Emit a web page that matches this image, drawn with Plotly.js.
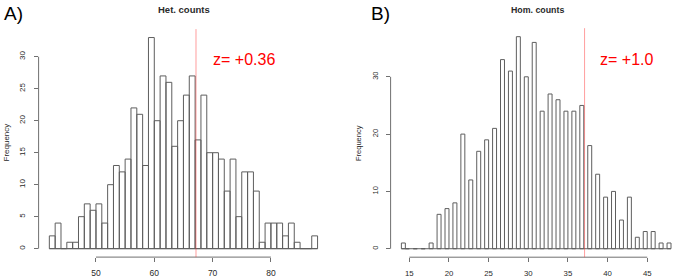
<!DOCTYPE html>
<html>
<head>
<meta charset="utf-8">
<script src="https://cdn.plot.ly/plotly-3.0.1.min.js"></script>
<style>
html,body{margin:0;padding:0;background:#fff;}
#chart{width:673px;height:277px;}
</style>
</head>
<body>
<div id="chart"></div>
<script>
// ---- Data ----
// A) Het. counts: histogram bins (k-1, k], k = upper edge
const hetValues = [43,44,45,46,47,48,49,50,51,52,53,54,55,56,57,58,59,60,61,62,63,64,65,66,67,68,69,70,71,72,73,74,75,76,77,78,79,80,81,82,83,84,85,86,87,88];
const hetCounts = [2,4,0,1,1,5,7,6,7,4,10,13,12,14,22,21,13,33,20,27,26,16,20,24,27,17,24,15,15,14,9,14,5,12,12,9,1,4,4,4,2,4,1,0,0,2];
const hetObserved = 67.15;
const hetLabel = "z= +0.36";
const hetXTicks = [50,60,70,80];
const hetYTicks = [0,5,10,15,20,25,30];

// B) Hom. counts: half-unit bins ending at each integer value
const homValues = [14,15,16,17,18,19,20,21,22,23,24,25,26,27,28,29,30,31,32,33,34,35,36,37,38,39,40,41,42,43,44,45,46,47,48];
const homCounts = [1,0,0,0,1,6,7,8,20,12,17,19,21,33,31,37,30,36,24,27,26,24,24,25,18,13,9,10,5,9,2,3,3,1,1];
const homObserved = 37.1;
const homLabel = "z= +1.0";
const homXTicks = [15,20,25,30,35,40,45];
const homYTicks = [0,10,20,30];

const titles = ["Het. counts", "Hom. counts"];
const panelLabels = ["A)", "B)"];
const yTitle = "Frequency";

// ---- Geometry ----
const W = 673, H = 277;
const px = v => v / W;
const py = v => 1 - v / H;
const FONT = "Liberation Sans, Arial, Helvetica, sans-serif";
const barLine = "#5e5e5e";
const axisCol = "#707070";
const txtCol = "#2a2a2a";
const redLine = "rgba(255,40,40,0.45)";

// bins
const hetBinW = 1;
const hetX = hetValues.map(v => v - hetBinW / 2);
const homBinW = 0.5;
const homX = homValues.map((v, i) => i === 0 ? v + homBinW / 2 : v - homBinW / 2);
const hetEdges = [hetValues[0] - hetBinW, hetValues[hetValues.length - 1]];
const homEdges = [homValues[0], homValues[homValues.length - 1]];

function pad(lo, hi) { const d = (hi - lo) * 0.04; return [lo - d, hi + d]; }
const hetXR = pad(hetEdges[0], hetEdges[1]);
const hetYR = pad(0, Math.max(...hetCounts));
const homXR = pad(homEdges[0], homEdges[1]);
const homYR = pad(0, Math.max(...homCounts));

const traces = [
  {type: 'bar', x: hetX, y: hetCounts, width: hetBinW, xaxis: 'x', yaxis: 'y',
   marker: {color: 'rgba(255,255,255,0)', line: {color: barLine, width: 1}}, hoverinfo: 'skip'},
  {type: 'scatter', mode: 'lines', x: hetEdges, y: [0, 0], xaxis: 'x', yaxis: 'y',
   line: {color: barLine, width: 1}, hoverinfo: 'skip'},
  {type: 'bar', x: homX, y: homCounts, width: homBinW, xaxis: 'x2', yaxis: 'y2',
   marker: {color: 'rgba(255,255,255,0)', line: {color: barLine, width: 1}}, hoverinfo: 'skip'},
  {type: 'scatter', mode: 'lines', x: homEdges, y: [0, 0], xaxis: 'x2', yaxis: 'y2',
   line: {color: barLine, width: 1}, hoverinfo: 'skip'}
];

function xax(domain, range, tickvals, size) {
  return {domain: domain, range: range, tickmode: 'array', tickvals: tickvals,
    ticks: 'outside', ticklen: 4, tickcolor: axisCol, tickwidth: 1,
    showline: false, showgrid: false, zeroline: false,
    tickfont: {family: FONT, size: size, color: txtCol}, ticklabelstandoff: 4, fixedrange: true};
}
function yax(domain, range, tickvals, size, anchor) {
  return {domain: domain, range: range, tickmode: 'array', tickvals: tickvals, anchor: anchor,
    ticks: 'outside', ticklen: 4, tickcolor: axisCol, tickwidth: 1, tickangle: -90,
    showline: false, showgrid: false, zeroline: false,
    tickfont: {family: FONT, size: size, color: txtCol}, ticklabelstandoff: 5, fixedrange: true};
}

const leftX0 = 38.6, leftX1 = 328.3;
const rightX0 = 390.6;
// right panel continues past the page edge; clip range at page width
const rightScale = (homXR[1] - homXR[0]) / (681.8 - rightX0);
const homXRvis = [homXR[0], homXR[0] + (W - rightX0) * rightScale];

const layout = {
  width: W, height: H,
  margin: {l: 0, r: 0, t: 0, b: 0},
  paper_bgcolor: '#fff', plot_bgcolor: 'rgba(0,0,0,0)',
  showlegend: false,
  xaxis: xax([px(leftX0), px(leftX1)], hetXR, hetXTicks, 8.5),
  yaxis: yax([py(257.1), py(29.1)], hetYR, hetYTicks, 8, 'x'),
  xaxis2: Object.assign(xax([px(rightX0), 1], homXRvis, homXTicks, 7.8), {anchor: 'y2'}),
  yaxis2: yax([py(257.2), py(28.2)], homYR, homYTicks, 7.5, 'x2'),
  shapes: [
    // axis lines (R style: first to last tick)
    {type: 'line', xref: 'x', yref: 'y domain', x0: hetXTicks[0], x1: hetXTicks[hetXTicks.length - 1], y0: 0, y1: 0, line: {color: axisCol, width: 1}},
    {type: 'line', xref: 'x domain', yref: 'y', x0: 0, x1: 0, y0: hetYTicks[0], y1: hetYTicks[hetYTicks.length - 1], line: {color: axisCol, width: 1}},
    {type: 'line', xref: 'x2', yref: 'y2 domain', x0: homXTicks[0], x1: homXTicks[homXTicks.length - 1], y0: 0, y1: 0, line: {color: axisCol, width: 1}},
    {type: 'line', xref: 'x2 domain', yref: 'y2', x0: 0, x1: 0, y0: homYTicks[0], y1: homYTicks[homYTicks.length - 1], line: {color: axisCol, width: 1}},
    // observed value lines
    {type: 'line', xref: 'x', yref: 'y domain', x0: hetObserved, x1: hetObserved, y0: 0, y1: 1, line: {color: redLine, width: 1}},
    {type: 'line', xref: 'x2', yref: 'y2 domain', x0: homObserved, x1: homObserved, y0: 0, y1: 1, line: {color: redLine, width: 1}}
  ],
  annotations: [
    {text: panelLabels[0], xref: 'paper', yref: 'paper', x: px(2), y: py(13), xanchor: 'left', yanchor: 'middle', showarrow: false, font: {family: FONT, size: 19, color: '#000'}},
    {text: panelLabels[1], xref: 'paper', yref: 'paper', x: px(369), y: py(13), xanchor: 'left', yanchor: 'middle', showarrow: false, font: {family: FONT, size: 19, color: '#000'}},
    {text: '<b>' + titles[0] + '</b>', xref: 'paper', yref: 'paper', x: px(184), y: py(9.5), xanchor: 'center', yanchor: 'middle', showarrow: false, font: {family: FONT, size: 9.5, color: txtCol}},
    {text: '<b>' + titles[1] + '</b>', xref: 'paper', yref: 'paper', x: px(537), y: py(9.5), xanchor: 'center', yanchor: 'middle', showarrow: false, font: {family: FONT, size: 8.8, color: txtCol}},
    {text: yTitle, xref: 'paper', yref: 'paper', x: px(5.5), y: py(143), xanchor: 'center', yanchor: 'middle', textangle: -90, showarrow: false, font: {family: FONT, size: 8, color: txtCol}},
    {text: yTitle, xref: 'paper', yref: 'paper', x: px(358), y: py(143), xanchor: 'center', yanchor: 'middle', textangle: -90, showarrow: false, font: {family: FONT, size: 7.5, color: txtCol}},
    {text: hetLabel, xref: 'paper', yref: 'paper', x: px(244), y: py(59), xanchor: 'center', yanchor: 'middle', showarrow: false, font: {family: FONT, size: 16, color: '#ff0000'}},
    {text: homLabel, xref: 'paper', yref: 'paper', x: px(626), y: py(59), xanchor: 'center', yanchor: 'middle', showarrow: false, font: {family: FONT, size: 16, color: '#ff0000'}}
  ]
};

Plotly.newPlot('chart', traces, layout, {staticPlot: true, displayModeBar: false});
</script>
</body>
</html>
